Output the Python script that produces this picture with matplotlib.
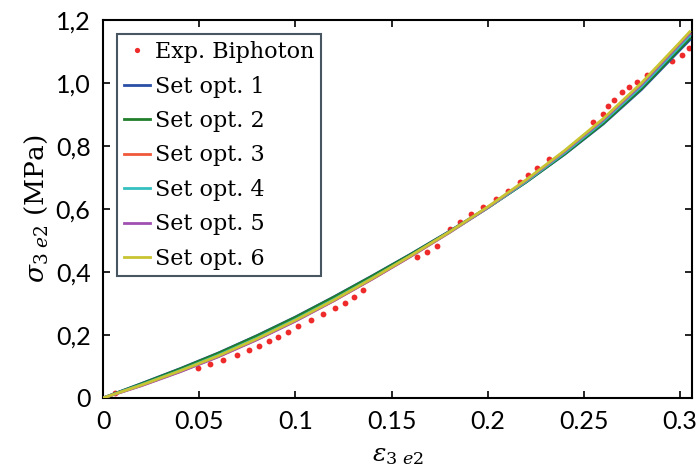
import numpy as np
import matplotlib
matplotlib.use('Agg')
import matplotlib.pyplot as plt
from matplotlib.ticker import FixedLocator, FixedFormatter

# experimental points (strain, stress MPa)
exp_strain = [0.0062, 0.0494, 0.0556, 0.0624, 0.0697, 0.0759, 0.0811, 0.0863, 0.0910, 0.0962,
              0.1014, 0.1081, 0.1144, 0.1206, 0.1258, 0.1305, 0.1351, 0.1632, 0.1684, 0.1736,
              0.1804, 0.1856, 0.1913, 0.1975, 0.2043, 0.2105, 0.2168, 0.2209, 0.2256, 0.2318,
              0.2547, 0.2599, 0.2625, 0.2656, 0.2698, 0.2734, 0.2776, 0.2828, 0.2958, 0.3010,
              0.3046]
exp_stress = [0.016, 0.096, 0.108, 0.121, 0.137, 0.153, 0.166, 0.182, 0.195, 0.211,
              0.230, 0.249, 0.268, 0.287, 0.303, 0.322, 0.344, 0.447, 0.463, 0.482,
              0.536, 0.558, 0.584, 0.606, 0.632, 0.657, 0.686, 0.708, 0.730, 0.759,
              0.877, 0.903, 0.928, 0.947, 0.973, 0.989, 1.005, 1.027, 1.069, 1.088,
              1.110]

# fitted model curves
fit_strain = [0, 0.02, 0.04, 0.06, 0.08, 0.10, 0.12, 0.14, 0.16, 0.18, 0.20, 0.22, 0.24,
              0.26, 0.28, 0.30, 0.305]
set1 = [0, 0.046, 0.093, 0.143, 0.198, 0.257, 0.321, 0.388, 0.457, 0.529, 0.605, 0.686, 0.774,
        0.870, 0.980, 1.106, 1.137]
set2 = [0, 0.045, 0.092, 0.142, 0.197, 0.256, 0.320, 0.387, 0.456, 0.528, 0.604, 0.686, 0.775,
        0.872, 0.983, 1.110, 1.142]
set3 = [0, 0.040, 0.084, 0.132, 0.186, 0.245, 0.309, 0.378, 0.450, 0.525, 0.604, 0.689, 0.781,
        0.881, 0.994, 1.122, 1.154]
set4 = [0, 0.042, 0.087, 0.136, 0.190, 0.249, 0.313, 0.381, 0.452, 0.526, 0.604, 0.688, 0.779,
        0.878, 0.990, 1.118, 1.150]
set5 = [0, 0.039, 0.083, 0.131, 0.185, 0.244, 0.309, 0.378, 0.450, 0.526, 0.605, 0.691, 0.783,
        0.883, 0.996, 1.125, 1.157]
set6 = [0, 0.041, 0.086, 0.134, 0.188, 0.247, 0.311, 0.380, 0.452, 0.527, 0.607, 0.693, 0.786,
        0.887, 1.001, 1.130, 1.163]

labels = ['Set opt. 1', 'Set opt. 2', 'Set opt. 3', 'Set opt. 4', 'Set opt. 5', 'Set opt. 6']
colors = ['#2a4fa6', '#1f7f2a', '#f0583a', '#35c0c0', '#a050b0', '#c8c432']

x_ticks = [0, 0.05, 0.1, 0.15, 0.2, 0.25, 0.3]
x_ticklabels = ['0', '0.05', '0.1', '0.15', '0.2', '0.25', '0.3']
y_ticks = [0, 0.2, 0.4, 0.6, 0.8, 1.0, 1.2]
y_ticklabels = ['0', '0,2', '0,4', '0,6', '0,8', '1,0', '1,2']

plt.rcParams['mathtext.fontset'] = 'dejavuserif'

fig = plt.figure(figsize=(6.98, 4.68), dpi=100)
ax = fig.add_axes([0.1476, 0.1496, 0.8438, 0.8074])

ax.plot(exp_strain, exp_stress, linestyle='none', marker='o', markersize=4.2,
        color='#ee2a2a', markeredgewidth=0, label='Exp. Biphoton', zorder=2)
for ys, c, lab in zip([set1, set2, set3, set4, set5, set6], colors, labels):
    ax.plot(fit_strain, ys, color=c, linewidth=2.0, label=lab, zorder=3)

ax.set_xlim(0, 0.3062)
ax.set_ylim(0, 1.2)
ax.xaxis.set_major_locator(FixedLocator(x_ticks))
ax.xaxis.set_major_formatter(FixedFormatter(x_ticklabels))
ax.yaxis.set_major_locator(FixedLocator(y_ticks))
ax.yaxis.set_major_formatter(FixedFormatter(y_ticklabels))
ax.tick_params(direction='in', length=5, width=1.2, top=True, right=True, labelsize=18)
ax.tick_params(axis='x', pad=9)
ax.tick_params(axis='y', pad=9)
for lbl in ax.get_xticklabels() + ax.get_yticklabels():
    lbl.set_family('Lato')
for sp in ax.spines.values():
    sp.set_linewidth(1.5)

ax.set_xlabel(r'$\varepsilon_{3\ e2}$', fontsize=18, labelpad=7)
ax.set_ylabel(r'$\sigma_{3\ e2}$ (MPa)', fontsize=19, family='DejaVu Serif', labelpad=4)

leg = ax.legend(loc='upper left', bbox_to_anchor=(0.024, 0.962), fancybox=False,
                prop={'family': 'DejaVu Serif', 'size': 16}, handlelength=1.2,
                handletextpad=0.2, borderpad=0.3, labelspacing=0.56, borderaxespad=0,
                markerscale=0.9)
leg.get_frame().set_edgecolor('#1a2c3a')
leg.get_frame().set_linewidth(1.5)

fig.savefig('out.png', dpi=100)
